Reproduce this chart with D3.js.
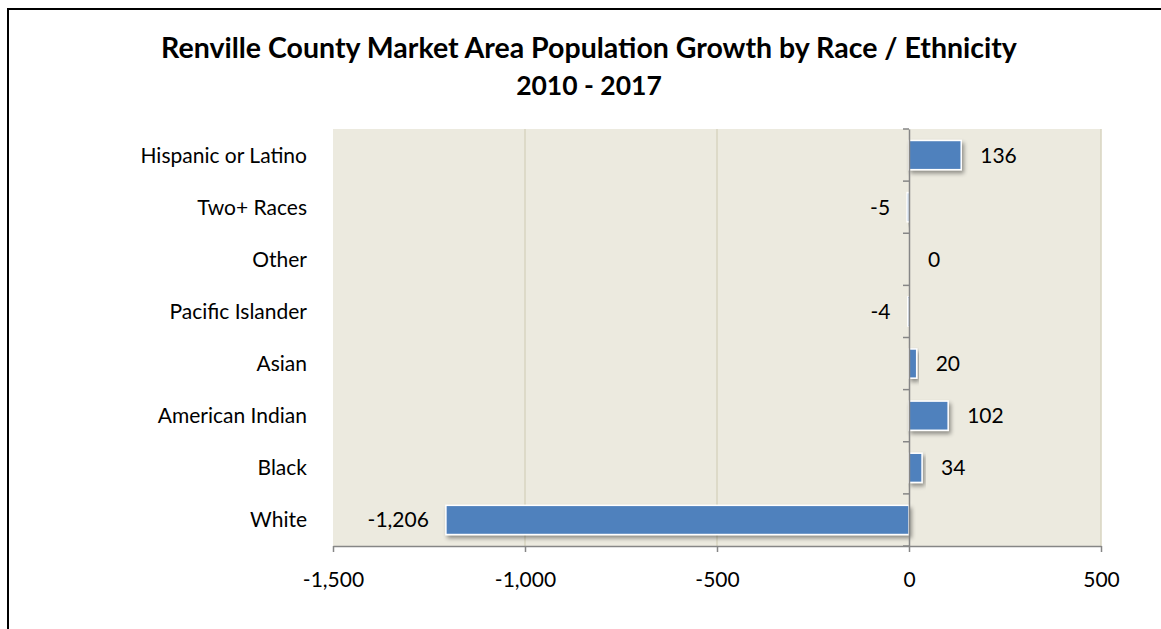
<!DOCTYPE html>
<html>
<head>
<meta charset="utf-8">
<script src="https://cdn.jsdelivr.net/npm/d3@7/dist/d3.min.js"></script>
<style>
  html, body { margin: 0; padding: 0; background: #fff; }
  svg { display: block; }
  text { font-family: Lato, "Open Sans", sans-serif; fill: #000; }
</style>
</head>
<body>
<svg id="chart" width="1161" height="629"></svg>
<script>
// Population change 2010-2017, listed bottom to top as drawn
const categories = ["White", "Black", "American Indian", "Asian", "Pacific Islander", "Other", "Two+ Races", "Hispanic or Latino"];
const growth = [-1206, 34, 102, 20, -4, 0, -5, 136];
const xTicks = [-1500, -1000, -500, 0, 500];
const titleLines = ["Renville County Market Area Population Growth by Race / Ethnicity", "2010 - 2017"];

const svg = d3.select("#chart");
const plot = { left: 333, right: 1101, top: 129, bottom: 546 };
const labelFont = "21px";

// Number format with a plain hyphen for negatives
const fmt = v => (v < 0 ? "-" : "") + d3.format(",")(Math.abs(v));

// Outer frame
svg.append("rect")
  .attr("x", 8).attr("y", 9)
  .attr("width", 1170).attr("height", 640)
  .attr("fill", "none").attr("stroke", "#000").attr("stroke-width", 2);

// Title
svg.append("text")
  .attr("x", 589).attr("y", 58)
  .attr("text-anchor", "middle")
  .style("font-size", "28.5px").style("font-weight", "bold")
  .selectAll("tspan").data(titleLines).join("tspan")
  .attr("x", 589).attr("dy", (d, i) => i === 0 ? 0 : 37)
  .style("font-size", (d, i) => i === 0 ? "28.5px" : "26.5px")
  .text(d => d);

const x = d3.scaleLinear().domain([-1500, 500]).range([plot.left, plot.right]);
const y = d3.scaleBand().domain(categories.slice().reverse())
  .range([plot.top, plot.bottom]).paddingInner(0.44).paddingOuter(0.22);

// Plot background
svg.append("rect")
  .attr("x", plot.left).attr("y", plot.top)
  .attr("width", plot.right - plot.left).attr("height", plot.bottom - plot.top)
  .attr("fill", "#ECEADF");

// Vertical gridlines
svg.append("g").selectAll("line").data(xTicks.filter(t => t !== 0 && t !== -1500))
  .join("line")
  .attr("x1", d => x(d)).attr("x2", d => x(d))
  .attr("y1", plot.top).attr("y2", plot.bottom)
  .attr("stroke", "#D9D5C1").attr("stroke-width", 1.5);

// Bar shadow filter
const defs = svg.append("defs");
const f = defs.append("filter").attr("id", "shadow").attr("x", "-20%").attr("y", "-30%").attr("width", "150%").attr("height", "180%");
f.append("feGaussianBlur").attr("in", "SourceAlpha").attr("stdDeviation", 2.2).attr("result", "b");
f.append("feOffset").attr("in", "b").attr("dx", 2).attr("dy", 3).attr("result", "o");
f.append("feComponentTransfer").attr("in", "o").attr("result", "s")
  .append("feFuncA").attr("type", "linear").attr("slope", 0.4);
const m = f.append("feMerge");
m.append("feMergeNode").attr("in", "s");
m.append("feMergeNode").attr("in", "SourceGraphic");

// Bars
svg.append("g").selectAll("rect").data(categories.map((c, i) => ({ c, v: growth[i] })).filter(d => d.v !== 0))
  .join("rect")
  .attr("x", d => Math.min(x(0), x(d.v)))
  .attr("y", d => y(d.c))
  .attr("width", d => Math.max(Math.abs(x(d.v) - x(0)), 1))
  .attr("height", y.bandwidth())
  .attr("fill", "#4F81BD")
  .attr("stroke", "#fff").attr("stroke-width", 1.5)
  .attr("filter", "url(#shadow)");

// Value labels
svg.append("g").selectAll("text").data(categories.map((c, i) => ({ c, v: growth[i] })))
  .join("text")
  .attr("x", d => d.v < 0 ? x(d.v) - 17 : x(d.v) + 19)
  .attr("y", d => y(d.c) + y.bandwidth() / 2)
  .attr("dy", "0.36em")
  .attr("text-anchor", d => d.v < 0 ? "end" : "start")
  .style("font-size", labelFont)
  .text(d => fmt(d.v));

// Category axis at zero
const yAxis = d3.axisLeft(y).tickSize(0).tickFormat("");
const yg = svg.append("g").attr("transform", `translate(${x(0)},0)`).call(yAxis);
yg.select(".domain").attr("stroke", "#868686").attr("stroke-width", 1.5);
const bounds = d3.range(categories.length + 1).map(i => plot.top + i * (plot.bottom - plot.top) / categories.length);
yg.selectAll(".bound").data(bounds).join("line").attr("class", "bound")
  .attr("x1", -6).attr("x2", 0).attr("y1", d => d).attr("y2", d => d)
  .attr("stroke", "#868686").attr("stroke-width", 1.5);

// Category labels on the left
svg.append("g").selectAll("text").data(categories)
  .join("text")
  .attr("x", 307)
  .attr("y", d => y(d) + y.bandwidth() / 2)
  .attr("dy", "0.36em")
  .attr("text-anchor", "end")
  .style("font-size", labelFont)
  .text(d => d);

// Value axis along the bottom
const xAxis = d3.axisBottom(x).tickValues(xTicks).tickSize(6).tickSizeOuter(0).tickFormat(fmt);
const xg = svg.append("g").attr("transform", `translate(0,${plot.bottom})`).call(xAxis);
xg.select(".domain").attr("stroke", "#868686").attr("stroke-width", 1.5);
xg.selectAll(".tick line").attr("stroke", "#868686").attr("stroke-width", 1.5);
xg.selectAll(".tick text").attr("y", 26).style("font-size", labelFont)
  .style("font-family", "Lato, 'Open Sans', sans-serif").attr("fill", "#000");
</script>
</body>
</html>
